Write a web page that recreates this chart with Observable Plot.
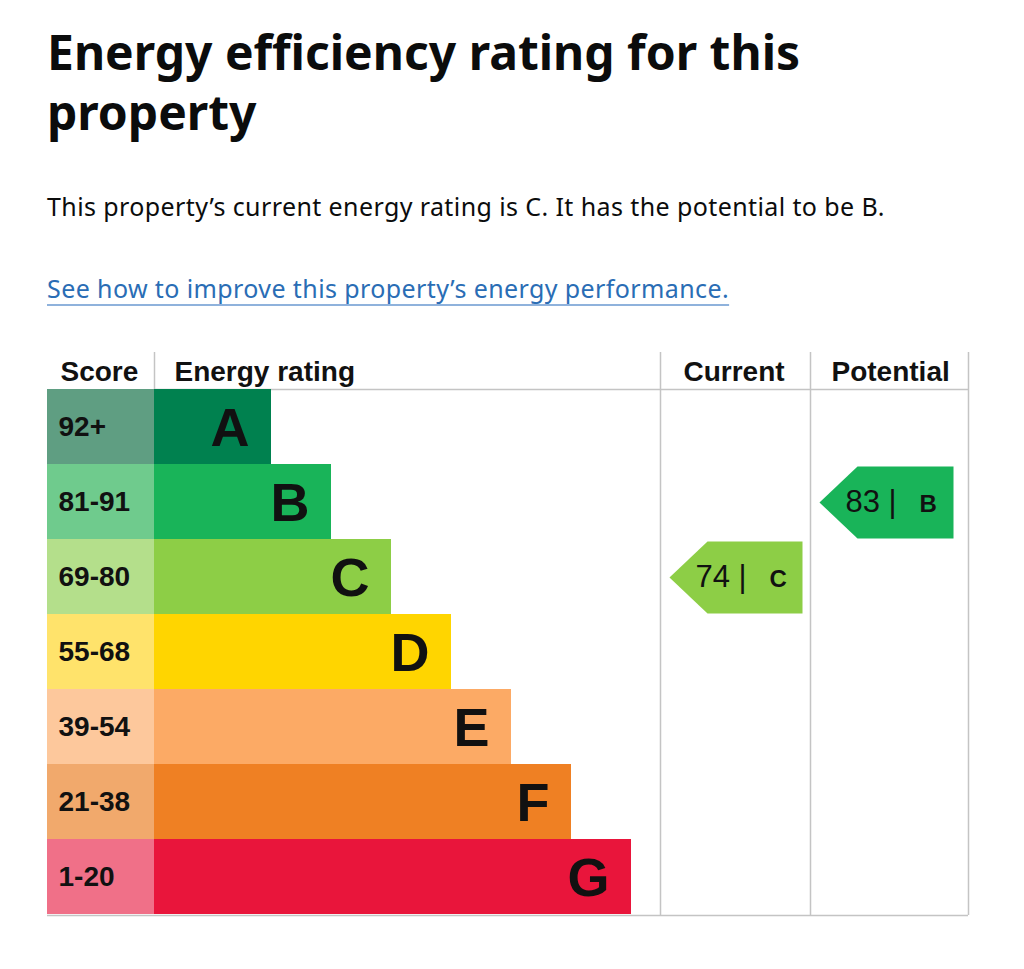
<!DOCTYPE html>
<html>
<head>
<meta charset="utf-8">
<script src="https://cdn.jsdelivr.net/npm/d3@7"></script>
<script src="https://cdn.jsdelivr.net/npm/@observablehq/plot@0.6"></script>
<style>
  html, body { margin: 0; padding: 0; background: #fff; }
  body { width: 1024px; height: 969px; position: relative; overflow: hidden; font-family: "Noto Sans", "Liberation Sans", sans-serif; color: #0b0c0c; }
  #title { position: absolute; left: 47px; top: 22px; margin: 0; font-size: 48px; line-height: 60px; font-weight: 700; letter-spacing: 0px; white-space: nowrap; }
  #sub { position: absolute; left: 47px; top: 190px; margin: 0; font-size: 25px; line-height: 32px; letter-spacing: 0.4px; white-space: nowrap; }
  #link { position: absolute; left: 47px; top: 272px; margin: 0; font-size: 25px; line-height: 32px; letter-spacing: 0.4px; white-space: nowrap; color: #2a6db5; text-decoration: underline; text-decoration-color: #8fb2dc; text-decoration-thickness: 2px; text-underline-offset: 6px; text-decoration-skip-ink: none; }
  #chart { position: absolute; left: 0; top: 340px; }
</style>
</head>
<body>
<h1 id="title">Energy efficiency rating for this<br>property</h1>
<p id="sub">This property’s current energy rating is C. It has the potential to be B.</p>
<p id="link">See how to improve this property’s energy performance.</p>
<div id="chart"></div>
<script>
// ---- data ----
const ratings = ["A", "B", "C", "D", "E", "F", "G"];
const scoreRanges = ["92+", "81-91", "69-80", "55-68", "39-54", "21-38", "1-20"];
const lowerBounds = [92, 81, 69, 55, 39, 21, 1];
const barColors = ["#00814f", "#19b459", "#8dce46", "#ffd500", "#fcaa65", "#ef8023", "#e9153b"];
const scoreColors = ["#5f9e82", "#6fcb8d", "#b4df8b", "#ffe36b", "#fdc89c", "#f1a96c", "#f07088"];
const headers = ["Score", "Energy rating", "Current", "Potential"];
const currentScore = 74;
const potentialScore = 83;

// ---- layout (pixels) ----
const W = 1024, H = 600;
const left = 47, scoreRight = 154, curLeft = 660, potLeft = 810, right = 968;
const headTop = 12, rowTop = 49, rowH = 75;
const barBase = 117, barStep = 60;

const rowOf = s => lowerBounds.findIndex(b => s >= b);

const rows = ratings.map((r, i) => ({
  rating: r, range: scoreRanges[i], bar: barColors[i], light: scoreColors[i],
  y1: rowTop + i * rowH, y2: rowTop + (i + 1) * rowH, ym: rowTop + (i + 0.5) * rowH,
  x2: scoreRight + barBase + barStep * i
}));

function arrow(score, colLeft, end) {
  const i = rowOf(score);
  const y1 = rowTop + i * rowH + 2, y2 = rowTop + (i + 1) * rowH - 1, ym = (y1 + y2) / 2;
  const tip = colLeft + 9, shoulder = tip + 38;
  return {
    i, ym, tip, end,
    pts: [[tip, ym], [shoulder, y1], [end, y1], [end, y2], [shoulder, y2], [tip, ym]].map(([x, y]) => ({x, y}))
  };
}
const cur = arrow(currentScore, curLeft, potLeft - 8);
const pot = arrow(potentialScore, potLeft, right - 15);

const headerPos = [
  {t: headers[0], x: 60}, {t: headers[1], x: 174}, {t: headers[2], x: 683}, {t: headers[3], x: 831}
];

const font = "Liberation Sans, Arial, sans-serif";
const grey = "#c4c4c4";

const chart = Plot.plot({
  width: W, height: H, margin: 0,
  x: {domain: [0, W], range: [0, W], axis: null},
  y: {domain: [0, H], range: [0, H], axis: null},
  color: {type: "identity"},
  marks: [
    // grid lines
    Plot.ruleY([rowTop], {x1: scoreRight, x2: right, stroke: grey, strokeWidth: 1.5}),
    Plot.ruleY([rowTop + 7 * rowH + 1], {x1: left, x2: right, stroke: grey, strokeWidth: 1.5}),
    Plot.ruleX([scoreRight], {y1: headTop, y2: rowTop, stroke: grey, strokeWidth: 1.5}),
    Plot.ruleX([curLeft, potLeft, right], {y1: headTop, y2: rowTop + 7 * rowH + 1, stroke: grey, strokeWidth: 1.5}),
    // score column
    Plot.rect(rows, {x1: left, x2: scoreRight, y1: "y1", y2: "y2", fill: "light"}),
    // rating bars
    Plot.rect(rows, {x1: scoreRight, x2: "x2", y1: "y1", y2: "y2", fill: "bar"}),
    Plot.text(rows, {x: left + 11, y: "ym", text: "range", textAnchor: "start", fontSize: 28, fontWeight: 700, fontFamily: font, fill: "#111"}),
    Plot.text(rows, {x: d => d.x2 - 22, y: "ym", text: "rating", textAnchor: "end", fontSize: 54, fontWeight: 700, fontFamily: font, fill: "#111", dy: 2}),
    // headers
    Plot.text(headerPos, {x: "x", y: headTop + 20, text: "t", textAnchor: "start", fontSize: 28, fontWeight: 700, fontFamily: font, fill: "#111"}),
    // arrows
    Plot.line(cur.pts, {x: "x", y: "y", fill: barColors[cur.i], stroke: "none"}),
    Plot.line(pot.pts, {x: "x", y: "y", fill: barColors[pot.i], stroke: "none"}),
    Plot.text([cur, pot], {x: d => d.tip + 26, y: "ym", text: d => (d === cur ? currentScore : potentialScore) + " |", textAnchor: "start", fontSize: 31, fontFamily: font, fill: "#111"}),
    Plot.text([cur, pot], {x: d => d.tip + 100, y: "ym", text: d => ratings[d.i], textAnchor: "start", fontSize: 24, fontWeight: 700, fontFamily: font, fill: "#111", dy: 2})
  ]
});
document.getElementById("chart").appendChild(chart);
</script>
</body>
</html>
